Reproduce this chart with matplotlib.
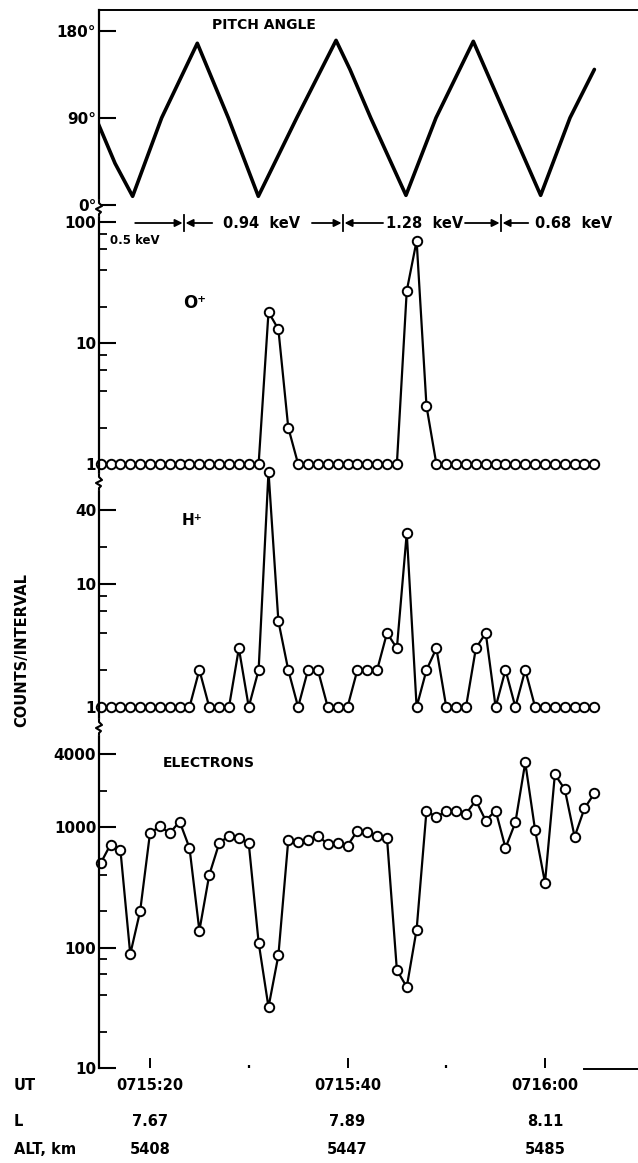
import numpy as np
import matplotlib
matplotlib.use("Agg")
import matplotlib.pyplot as plt
from matplotlib.lines import Line2D
from matplotlib.ticker import NullFormatter

plt.rcParams['font.family'] = ['DejaVu Sans']
plt.rcParams['font.weight'] = 'bold'

# --- data ---
# pitch angle curve (seconds after 07:15:00, degrees)
pitch_t = [14.76, 16.46, 18.24, 21.18, 24.79, 27.93, 30.97, 34.86, 38.84,
           40.25, 42.35, 45.92, 48.96, 52.74, 56.12, 59.56, 62.53, 65.0]
pitch_deg = [84, 43, 9, 90, 167, 90, 9, 90, 170,
             140, 90, 10, 90, 169, 90, 10, 90, 140]

# one sample per second, 0715:15 .. 0716:05
sample_t = np.arange(15, 66, 1.0)

oxygen = [1, 1, 1, 1, 1, 1, 1, 1, 1, 1,
          1, 1, 1, 1, 1, 1, 1, 18, 13, 2,
          1, 1, 1, 1, 1, 1, 1, 1, 1, 1,
          1, 27, 70, 3, 1, 1, 1, 1, 1, 1,
          1, 1, 1, 1, 1, 1, 1, 1, 1, 1,
          1]

hydrogen = [1, 1, 1, 1, 1, 1, 1, 1, 1, 1,
            2, 1, 1, 1, 3, 1, 2, 82, 5, 2,
            1, 2, 2, 1, 1, 1, 2, 2, 2, 4,
            3, 26, 1, 2, 3, 1, 1, 1, 3, 4,
            1, 2, 1, 2, 1, 1, 1, 1, 1, 1,
            1]

electrons = [500, 715, 650, 88, 200, 890, 1010, 890, 1110, 670,
             138, 400, 730, 850, 810, 730, 110, 32, 86, 775,
             750, 775, 840, 725, 740, 700, 930, 910, 850, 810,
             65, 47, 141, 1370, 1200, 1370, 1350, 1290, 1660, 1130,
             1370, 670, 1090, 3430, 940, 345, 2730, 2060, 830, 1430,
             1900]

# energy steps of the ion analyser
energy_edges = [23.45, 39.55, 55.55]
energy_labels = ["0.94 keV", "1.28 keV", "0.68 keV"]
energy_label_t = [31.3, 47.85, 62.85]

# time axis labels
ut_ticks = [20, 40, 60]
ut_labels = ["0715:20", "0715:40", "0716:00"]
l_values = ["7.67", "7.89", "8.11"]
alt_values = ["5408", "5447", "5485"]

# --- layout in pixels of the 638x1163 image ---
W, H = 638, 1163
fig = plt.figure(figsize=(W / 100, H / 100), dpi=100)

x_left = 99
px_per_s = (545 - 150) / 40.0
t_left = 20 + (x_left - 150) / px_per_s
t_right = 20 + (W - 150) / px_per_s


def add_panel(top, bottom):
    return fig.add_axes([x_left / W, 1 - bottom / H, (W - x_left) / W, (bottom - top) / H])


def log_lims(v_hi, p_hi, v_lo, p_lo, top, bottom):
    dec = (p_lo - p_hi) / (np.log10(v_hi) - np.log10(v_lo))
    return (10 ** (np.log10(v_lo) - (bottom - p_lo) / dec),
            10 ** (np.log10(v_hi) + (p_hi - top) / dec))


def fig_line(xs, ys, **kw):
    fig.add_artist(Line2D([x / W for x in xs], [1 - y / H for y in ys],
                          transform=fig.transFigure, **kw))


def panel_text(ax, top, bottom, x_px, y_px, s, **kw):
    ax.text((x_px - x_left) / (W - x_left), (bottom - y_px) / (bottom - top), s,
            transform=ax.transAxes, fontweight='bold', **kw)


ax_p = add_panel(10, 210)
ax_o = add_panel(210, 483)
ax_h = add_panel(483, 727)
ax_e = add_panel(727, 1068)

for ax in [ax_p, ax_o, ax_h, ax_e]:
    ax.set_xlim(t_left, t_right)
    ax.patch.set_alpha(0)
    for s in ['right', 'bottom', 'top']:
        ax.spines[s].set_visible(False)
    ax.spines['left'].set_linewidth(1.6)
    ax.set_xticks([])
    ax.tick_params(axis='y', which='major', direction='in', length=12, width=1.5,
                   labelsize=11, pad=2)
    ax.tick_params(axis='y', which='minor', direction='in', length=6, width=1.3)

ax_p.spines['top'].set_visible(True)
ax_p.spines['top'].set_linewidth(1.4)

# pitch angle
deg_px = (205 - 30.7) / 180
ax_p.set_ylim(-(210 - 205) / deg_px, (205 - 10) / deg_px)
ax_p.plot(pitch_t, pitch_deg, color='k', lw=2.6, solid_joinstyle='round',
          solid_capstyle='round')
ax_p.set_yticks([0, 90, 180], ["0°", "90°", "180°"], fontweight='bold')
panel_text(ax_p, 10, 210, 212, 25, "PITCH ANGLE", fontsize=10, ha='left', va='center')

mk = dict(color='k', lw=1.6, marker='o', ms=6.8, mfc='white', mec='k', mew=1.4)

# O+
ax_o.set_yscale('log')
ax_o.set_ylim(*log_lims(100, 222, 1, 464, 210, 483))
ax_o.plot(sample_t, oxygen, clip_on=False, **mk)
ax_o.set_yticks([1, 10, 100], ["1", "10", "100"], fontweight='bold')
ax_o.set_yticks([2, 4, 6, 8, 20, 40, 60, 80], minor=True)
ax_o.yaxis.set_minor_formatter(NullFormatter())
panel_text(ax_o, 210, 483, 195, 303, "O\u207a", fontsize=12, ha='center', va='center')
panel_text(ax_o, 210, 483, 110, 240, "0.5 keV", fontsize=8.5, ha='left', va='center')

# energy step row
trans = ax_o.get_xaxis_transform()
y_row = (483 - 223) / (483 - 210)
arrow_from = [(18.5, 26.3), (36.4, 43.6), (51.9, 58.3)]
ap = dict(arrowstyle='-|>', color='k', lw=1.3, mutation_scale=11, shrinkA=0, shrinkB=0)
for edge, (a, b) in zip(energy_edges, arrow_from):
    ax_o.annotate('', xy=(edge - 0.15, y_row), xytext=(a, y_row), xycoords=trans,
                  textcoords=trans, arrowprops=ap, annotation_clip=False)
    ax_o.annotate('', xy=(edge + 0.15, y_row), xytext=(b, y_row), xycoords=trans,
                  textcoords=trans, arrowprops=ap, annotation_clip=False)
    ax_o.plot([edge, edge], [y_row - 0.03, y_row + 0.03], transform=trans,
              color='k', lw=1.3, clip_on=False)
for lt, lab in zip(energy_label_t, energy_labels):
    ax_o.text(lt, y_row, lab.replace(" ", "  "), transform=trans, fontsize=10.5,
              fontweight='bold', ha='center', va='center')

# H+
ax_h.set_yscale('log')
ax_h.set_ylim(*log_lims(10, 584, 1, 707, 483, 727))
ax_h.plot(sample_t, hydrogen, clip_on=False, **mk)
ax_h.set_yticks([1, 10, 40], ["1", "10", "40"], fontweight='bold')
ax_h.set_yticks([2, 4, 6, 8, 20], minor=True)
ax_h.yaxis.set_minor_formatter(NullFormatter())
panel_text(ax_h, 483, 727, 192, 520, "H\u207a", fontsize=11, ha='center', va='center')

# electrons
ax_e.set_yscale('log')
ax_e.set_ylim(*log_lims(1000, 827, 10, 1068, 727, 1068))
ax_e.plot(sample_t, electrons, clip_on=False, **mk)
ax_e.set_yticks([10, 100, 1000, 4000], ["10", "100", "1000", "4000"], fontweight='bold')
ax_e.set_yticks([20, 40, 60, 80, 200, 400, 2000], minor=True)
ax_e.yaxis.set_minor_formatter(NullFormatter())
panel_text(ax_e, 727, 1068, 163, 763, "ELECTRONS", fontsize=10, ha='left', va='center')

# time ticks along the bottom
ax_e.set_xticks(ut_ticks)
ax_e.set_xticks([30, 50], minor=True)
ax_e.tick_params(axis='x', which='major', direction='in', length=7, width=1.4,
                 labelbottom=False, bottom=True)
ax_e.tick_params(axis='x', which='minor', direction='in', length=2.5, width=1.6,
                 bottom=True)

row_y = {"UT": 1085, "L": 1121, "ALT, km": 1150}
for name, vals in [("UT", ut_labels), ("L", l_values), ("ALT, km", alt_values)]:
    fig.text(14 / W, 1 - row_y[name] / H, name, fontsize=10.5, fontweight='bold',
             ha='left', va='center')
    for t, v in zip(ut_ticks, vals):
        xf = (x_left + (t - t_left) * px_per_s) / W
        fig.text(xf, 1 - row_y[name] / H, v, fontsize=10.5, fontweight='bold',
                 ha='center', va='center')

fig.text(22 / W, 1 - 650 / H, "COUNTS/INTERVAL", rotation=90, fontsize=10.5,
         fontweight='bold', ha='center', va='center')

# short piece of the bottom frame at the right
fig_line([584, 638], [1069, 1069], color='k', lw=1.4)

# axis breaks on the left spine
for yb in [208, 482, 727]:
    fig_line([x_left, x_left], [yb - 6, yb + 6], color='white', lw=3)
    fig_line([x_left, x_left, x_left + 3, x_left - 3, x_left + 2, x_left, x_left],
             [yb - 7, yb - 5, yb - 2, yb + 1, yb + 4, yb + 6, yb + 7],
             color='k', lw=1.5)

fig.savefig("out.png", dpi=100)
